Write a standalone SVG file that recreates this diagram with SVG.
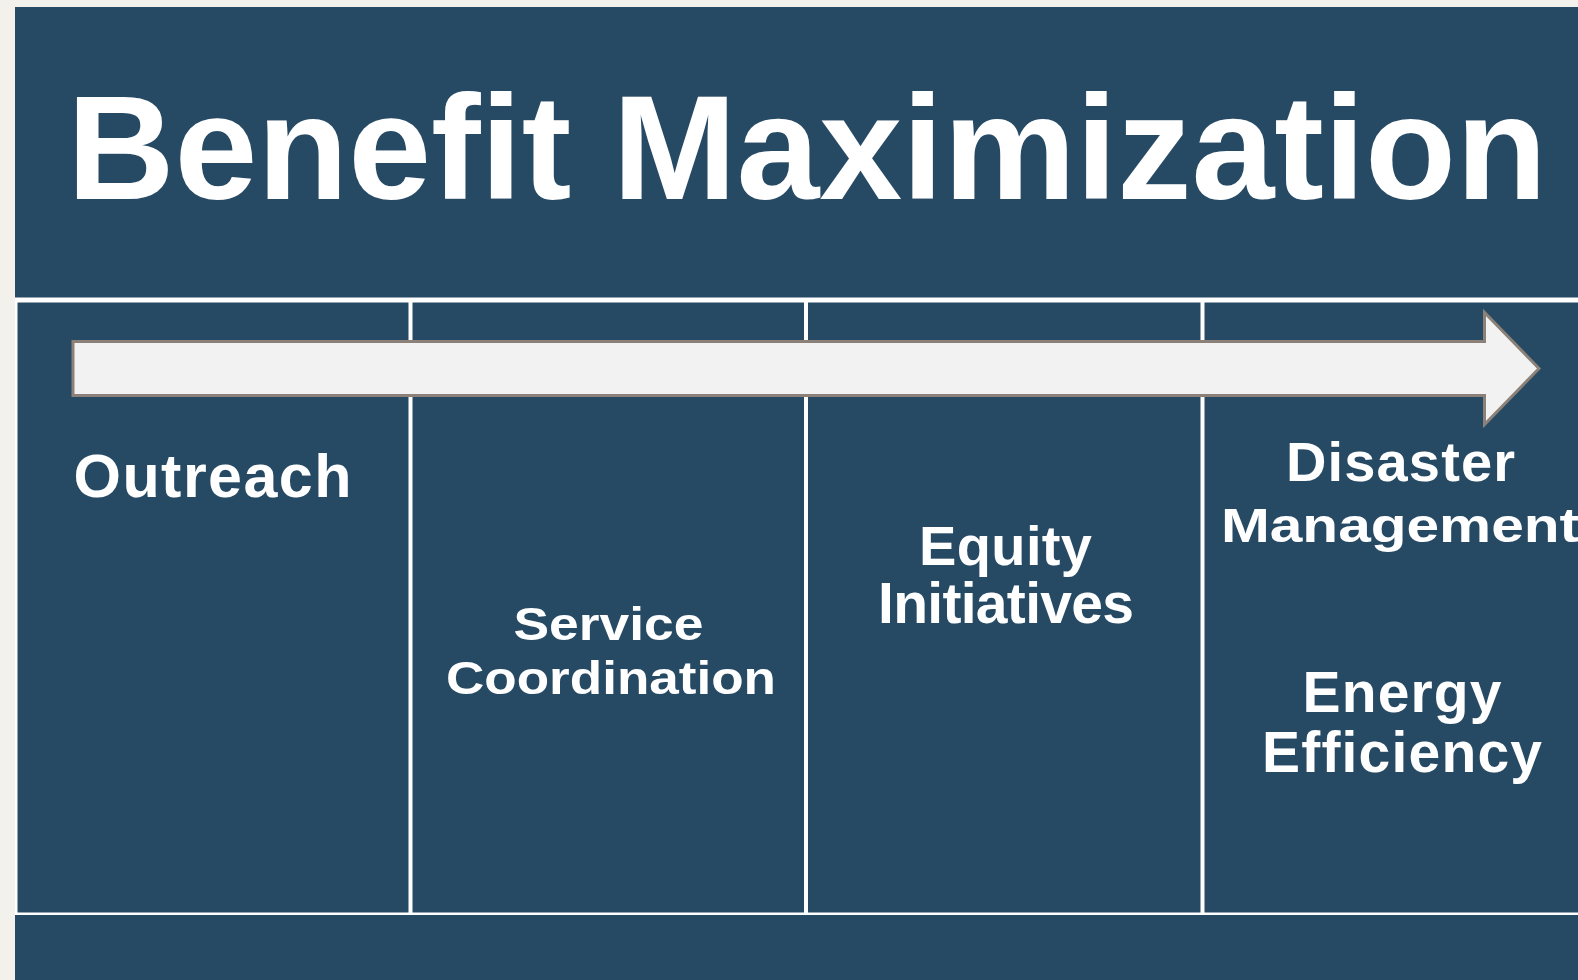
<svg xmlns="http://www.w3.org/2000/svg" width="1578" height="980" viewBox="0 0 1578 980">
  <style>
    .panel { fill: #274a64; }
    .rule { fill: #ffffff; }
    .label { fill: #ffffff; font-family: "Liberation Sans", Arial, sans-serif; font-weight: bold; text-anchor: middle; }
    .title { fill: #ffffff; font-family: "Liberation Sans", Arial, sans-serif; font-weight: bold; font-size: 149px; }
    .arrow { fill: #f2f2f2; stroke: #8b8178; stroke-width: 3; stroke-linejoin: miter; }
  </style>

  <!-- page background -->
  <rect x="0" y="0" width="1578" height="980" fill="#f3f1ec"/>
  <!-- slide body -->
  <rect class="panel" x="15" y="7" width="1563" height="973"/>

  <!-- header -->
  <g id="header">
    <text class="title" x="67" y="199" textLength="1480" lengthAdjust="spacing">Benefit Maximization</text>
  </g>

  <!-- table rules -->
  <g id="grid">
    <rect class="rule" x="15" y="297.5" width="1563" height="5"/>
    <rect class="rule" x="15" y="300" width="2.5" height="615"/>
    <rect class="rule" x="408.5" y="300" width="4" height="615"/>
    <rect class="rule" x="804" y="300" width="4" height="615"/>
    <rect class="rule" x="1200.5" y="300" width="4" height="615"/>
    <rect class="rule" x="15" y="912.5" width="1563" height="2.5"/>
  </g>

  <!-- timeline arrow across the columns -->
  <g id="connectors">
    <polygon id="timeline-arrow" class="arrow" points="73,341.5 1484.5,341.5 1484.5,312.5 1539,368.5 1484.5,424.5 1484.5,395.5 73,395.5"/>
  </g>

  <g id="col-outreach">
    <text class="label" x="212.5" y="497" font-size="61" textLength="278" lengthAdjust="spacing">Outreach</text>
  </g>

  <g id="col-service-coordination">
    <text class="label" x="608.5" y="640" font-size="46" textLength="190" lengthAdjust="spacingAndGlyphs">Service</text>
    <text class="label" x="611" y="694" font-size="46" textLength="330" lengthAdjust="spacingAndGlyphs">Coordination</text>
  </g>

  <g id="col-equity-initiatives">
    <text class="label" x="1005.5" y="565" font-size="56" textLength="173" lengthAdjust="spacing">Equity</text>
    <text class="label" x="1006" y="623" font-size="57" textLength="256" lengthAdjust="spacing">Initiatives</text>
  </g>

  <g id="col-disaster-energy">
    <text class="label" x="1400.5" y="481" font-size="56" textLength="229" lengthAdjust="spacing">Disaster</text>
    <text class="label" x="1400" y="541.5" font-size="48" textLength="358" lengthAdjust="spacingAndGlyphs">Management</text>
    <text class="label" x="1402" y="711.5" font-size="57" textLength="199" lengthAdjust="spacing">Energy</text>
    <text class="label" x="1402" y="772" font-size="57" textLength="280" lengthAdjust="spacing">Efficiency</text>
  </g>
</svg>
